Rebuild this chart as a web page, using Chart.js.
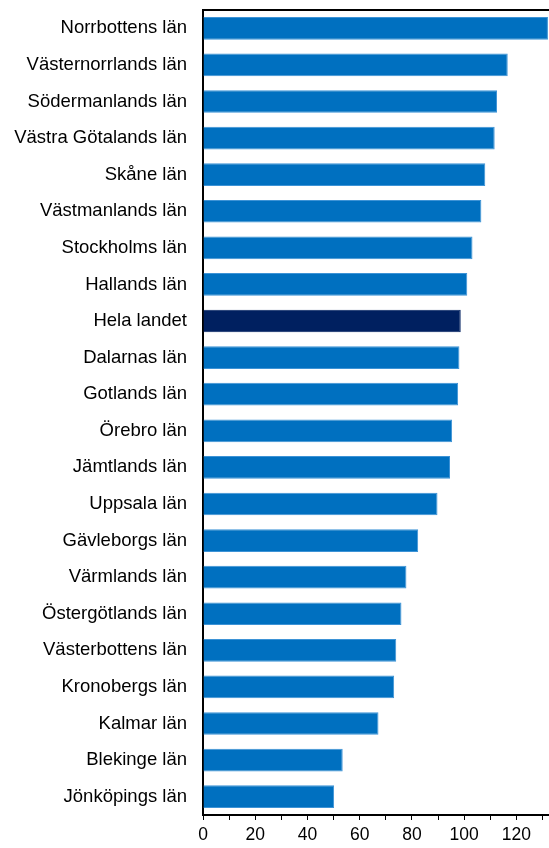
<!DOCTYPE html>
<html>
<head>
<meta charset="utf-8">
<script src="https://cdn.jsdelivr.net/npm/chart.js@4/dist/chart.umd.min.js"></script>
<style>
html,body{margin:0;padding:0;background:#fff;}
#wrap{position:relative;width:549px;height:848px;}
</style>
</head>
<body>
<div id="wrap"><canvas id="c"></canvas></div>
<script>
const categories = ["Norrbottens län","Västernorrlands län","Södermanlands län","Västra Götalands län","Skåne län","Västmanlands län","Stockholms län","Hallands län","Hela landet","Dalarnas län","Gotlands län","Örebro län","Jämtlands län","Uppsala län","Gävleborgs län","Värmlands län","Östergötlands län","Västerbottens län","Kronobergs län","Kalmar län","Blekinge län","Jönköpings län"];
const values = [132.1,116.7,112.6,111.7,108.1,106.6,103.2,101.2,98.7,98.2,97.7,95.4,94.6,89.8,82.4,77.9,76.0,74.0,73.2,67.2,53.5,50.2];
const highlight = "Hela landet";
const xTickValues = [0,10,20,30,40,50,60,70,80,90,100,110,120,130];
const xLabelStep = 20;

const fontFamily = "'Liberation Sans', Arial, sans-serif";
const colors = categories.map(c => c === highlight ? '#002060' : '#0070C0');
const borders = categories.map(c => c === highlight ? '#002060' : '#3d93d6');

new Chart(document.getElementById('c'), {
  type: 'bar',
  data: {
    labels: categories,
    datasets: [{
      data: values,
      backgroundColor: colors,
      borderColor: borders,
      borderWidth: 1,
      categoryPercentage: 0.62,
      barPercentage: 1.0
    }]
  },
  options: {
    indexAxis: 'y',
    responsive: true,
    maintainAspectRatio: false,
    animation: false,
    layout: { padding: { top: 10, right: 0, left: 0, bottom: 0 } },
    plugins: { legend: { display: false }, tooltip: { enabled: false } },
    scales: {
      x: {
        position: 'bottom',
        min: 0,
        max: 132.5,
        afterBuildTicks: axis => { axis.ticks = xTickValues.map(v => ({ value: v })); },
        afterFit: s => { s.height = 33; s.paddingLeft = 0; s.paddingRight = 0; },
        ticks: {
          autoSkip: false,
          maxRotation: 0,
          padding: 5,
          color: '#000',
          font: { family: fontFamily, size: 17.5 },
          callback: v => (v % xLabelStep === 0 ? String(v) : '')
        },
        grid: { display: true, drawOnChartArea: false, drawTicks: true, tickLength: 5, color: '#000', lineWidth: 1 },
        border: { display: true, color: '#000', width: 2 }
      },
      x2: {
        position: 'top',
        min: 0,
        max: 132.5,
        afterFit: s => { s.height = 0; s.paddingLeft = 0; s.paddingRight = 0; },
        ticks: { display: false },
        grid: { display: false, drawTicks: false },
        border: { display: true, color: '#000', width: 2 }
      },
      y: {
        ticks: {
          color: '#000',
          padding: 16,
          font: { family: fontFamily, size: 18.5 }
        },
        afterFit: s => { s.width = 203; s.paddingTop = 0; s.paddingBottom = 0; },
        grid: { display: false, drawTicks: false },
        border: { display: true, color: '#000', width: 2 }
      }
    }
  }
});
</script>
</body>
</html>
